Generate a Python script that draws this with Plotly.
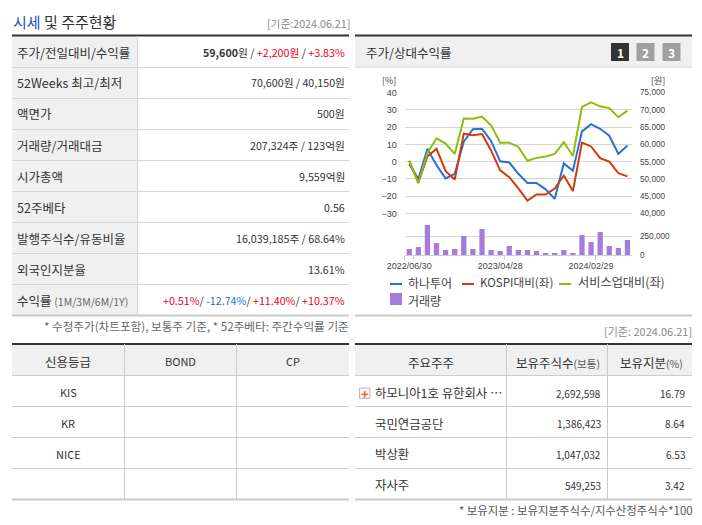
import re

import plotly.graph_objects as go

FONT = "Noto Sans CJK KR"
W, H = 702, 525

hana = [-1.5, -10, 7.5, -2, -9.7, -7, 11.5, 18.8, 19, 12, 0.2, -0.5, -7, -12.3, -12.3, -16, -21.5, -1, -5.3, 17.5, 21.7, 19, 15, 4.5, 9.3]
kospi = [0.5, -12, 3, 7.5, -5.5, -10.3, 16.2, 15.3, 16, 6.5, -5, -9, -15.5, -22.5, -19, -19, -15.5, -8, -17, 11, 8.8, 2, 0, -6.7, -8.5]
service = [0.5, -12.5, 5, 13.5, 10.5, 4.5, 25, 24.8, 26, 21, 11, 11, 8.5, 0.5, 2.2, 3, 4.5, 11.2, 3.3, 31.7, 34.3, 32, 31, 25.7, 29.5]
volume = [80000, 107000, 400000, 160000, 67000, 80000, 255000, 80000, 348000, 67000, 54000, 120000, 67000, 67000, 54000, 27000, 27000, 67000, 27000, 268000, 174000, 308000, 120000, 94000, 200000]

date_pos = [0, 10, 20]
date_labels = ["2022/06/30", "2023/04/28", "2024/02/29"]
pct_ticks = [-30, -20, -10, 0, 10, 20, 30, 40]
price_ticks = [40000, 45000, 50000, 55000, 60000, 65000, 70000, 75000]
vol_ticks = [0, 250000]
series_names = ["하나투어", "KOSPI대비(좌)", "서비스업대비(좌)"]
volume_name = "거래량"

row_labels = ["주가/전일대비/수익률", "52Weeks 최고/최저", "액면가", "거래량/거래대금", "시가총액", "52주베타", "발행주식수/유동비율", "외국인지분율", "수익률"]
row_values = ["59,600원 / +2,200원 / +3.83%", "70,600원 / 40,150원", "500원", "207,324주 / 123억원", "9,559억원", "0.56", "16,039,185주 / 68.64%", "13.61%", "+0.51%/ -12.74%/ +11.40%/ +10.37%"]
credit_head = ["신용등급", "BOND", "CP"]
credit_names = ["KIS", "KR", "NICE", ""]
holder_head = ["주요주주", "보유주식수", "보유지분"]
holder_names = ["하모니아1호 유한회사 …", "국민연금공단", "박상환", "자사주"]
holder_shares = ["2,692,598", "1,386,423", "1,047,032", "549,253"]
holder_pct = ["16.79", "8.64", "6.53", "3.42"]

BLUE = "#2a70dc"
RED = "#d13a0a"
GREEN = "#8abf10"
PURPLE = "#a67bdc"
LINE = "#d6d6d6"
HEAD = "#f0f0f0"
TEXT = "#333333"


def px(x):
    return x / W


def py(y):
    return 1 - y / H


shapes = []
notes = []


def rect(x0, y0, x1, y1, color):
    shapes.append(dict(type="rect", xref="paper", yref="paper", x0=px(x0), x1=px(x1),
                       y0=py(y0), y1=py(y1), fillcolor=color, line_width=0, layer="below"))


def rule(x0, y0, x1, y1, color=LINE, width=1):
    shapes.append(dict(type="line", xref="paper", yref="paper", x0=px(x0), x1=px(x1),
                       y0=py(y0), y1=py(y1), line=dict(color=color, width=width), layer="below"))


def label(x, y, text, size=12, color=TEXT, anchor="left"):
    notes.append(dict(xref="paper", yref="paper", x=px(x), y=py(y), text=text, showarrow=False,
                      xanchor=anchor, yanchor="middle", borderpad=0,
                      font=dict(family=FONT, size=size, color=color)))


def colour_signed(text):
    def repl(m):
        color = "#e8001c" if m.group(0)[0] == "+" else "#1a6fe0"
        return f'<span style="color:{color}">{m.group(0)}</span>'
    return re.sub(r"[+-][\d,.]+[%원]", repl, text)


# 시세 table
label(12, 21, '<span style="color:#2a4cc0">시세</span> 및 주주현황', size=15)
label(351, 23, "[기준:2024.06.21]", size=10.7, color="#888888", anchor="right")
rect(12, 36, 137.5, 315, HEAD)
rule(12, 35.5, 349, 35.5, "#333333", 2)
for i, (name, value) in enumerate(zip(row_labels, row_values)):
    yc = 52 + 31 * i
    if name == "수익률":
        name += ' <span style="font-size:10.5px;color:#666666">(1M/3M/6M/1Y)</span>'
    label(16, yc, name, size=12.5)
    value = colour_signed(value)
    if i == 0:
        value = value.replace("59,600", "<b>59,600</b>", 1)
    label(346, yc, value, size=10.7, anchor="right")
    if i < len(row_labels) - 1:
        rule(12, yc + 15.5, 349, yc + 15.5)
rule(137.5, 36, 137.5, 315)
rule(12, 315.5, 349, 315.5, "#c8c8c8", 2)
label(350, 326, "* 수정주가(차트포함), 보통주 기준, * 52주베타: 주간수익률 기준", size=11.6, color="#666666", anchor="right")

# 신용등급 table
rect(12, 344, 349, 375.5, HEAD)
rule(12, 344, 349, 344, "#333333", 2)
for x, text, size in zip([68, 180.5, 293], credit_head, [12.5, 11, 11]):
    label(x, 361, text, size=size, anchor="center")
for i, name in enumerate(credit_names):
    label(68, 392 + 31 * i, name, size=11, anchor="center")
    rule(12, 375.5 + 31 * i, 349, 375.5 + 31 * i, "#cccccc")
rule(124.5, 344, 124.5, 499, "#cccccc")
rule(236.5, 344, 236.5, 499, "#cccccc")
rule(12, 499.5, 349, 499.5, "#c8c8c8", 2)

# 주요주주 table
label(693, 331, "[기준: 2024.06.21]", size=11, color="#888888", anchor="right")
rect(355, 344, 692, 375.5, HEAD)
rule(355, 344, 692, 344, "#333333", 2)
label(431, 362, holder_head[0], size=12.5, anchor="center")
label(558, 362, holder_head[1] + '<span style="font-size:10.5px;color:#555555">(보통)</span>', size=12.5, anchor="center")
label(651, 362, holder_head[2] + '<span style="font-size:10.5px;color:#555555">(%)</span>', size=12.5, anchor="center")
for i in range(len(holder_names)):
    yc = 393 + 30.7 * i
    label(374, yc, holder_names[i], size=12.4)
    label(601.5, yc, holder_shares[i], size=10, anchor="right")
    label(686, yc, holder_pct[i], size=10, anchor="right")
    rule(355, 375.5 + 31 * i, 692, 375.5 + 31 * i, "#cccccc")
rule(506.5, 344, 506.5, 499, "#cccccc")
rule(607.5, 344, 607.5, 499, "#cccccc")
rule(355, 499.5, 692, 499.5, "#c8c8c8", 2)
label(694, 510, "* 보유지분 : 보유지분주식수/지수산정주식수*100", size=11.4, color="#555555", anchor="right")
# plus icon
shapes.append(dict(type="rect", xref="paper", yref="paper", x0=px(359.5), x1=px(370), y0=py(388), y1=py(398.5),
                   fillcolor="#f4f4f4", line=dict(color="#bbbbbb", width=1), layer="below"))
label(364.8, 393, "<b>+</b>", size=13, color="#f0650f", anchor="center")

# chart panel
rect(355, 36, 692, 67, HEAD)
rule(355, 35.5, 692, 35.5, "#333333", 2)
rule(355, 67, 692, 67)
label(365, 52, "주가/상대수익률", size=12.5)
for x0, digit, color in [(611, "1", "#333333"), (636.5, "2", "#a0a0a0"), (662.5, "3", "#a0a0a0")]:
    rect(x0, 43, x0 + 18, 61, color)
    label(x0 + 9, 52, f"<b>{digit}</b>", size=12, color="#ffffff", anchor="center")
label(397, 80, "[%]", size=9, color="#444444", anchor="right")
label(666, 80, "[원]", size=9, color="#444444", anchor="right")
rule(355, 315.5, 692, 315.5, "#c8c8c8", 2)

# manual legend, the swatches are shorter than plotly's own
legend_x = [(390, 407), (462, 479), (559, 577)]
legend_size = [12, 11.6, 12.2]
for (x0, tx), name, color, size in zip(legend_x, series_names, [BLUE, RED, GREEN], legend_size):
    rule(x0, 284, x0 + 12, 284, color, 2)
    label(tx, 282, name, size=size, color="#444444")
rect(390, 293, 402, 305, PURPLE)
label(407, 300, volume_name, size=12, color="#444444")

idx = list(range(len(volume)))
fig = go.Figure()
for values, name, color in zip([hana, kospi, service], series_names, [BLUE, RED, GREEN]):
    fig.add_trace(go.Scatter(x=idx, y=values, name=name, mode="lines", line=dict(color=color, width=2),
                             xaxis="x", yaxis="y", showlegend=False))
fig.add_trace(go.Bar(x=idx, y=volume, name=volume_name, marker=dict(color=PURPLE, line_width=0), width=0.58,
                     xaxis="x2", yaxis="y3", showlegend=False))
# invisible trace so the price axis gets drawn
fig.add_trace(go.Scatter(x=[idx[0]] * len(price_ticks), y=price_ticks, mode="none", hoverinfo="skip",
                         xaxis="x", yaxis="y2", showlegend=False))

tick_font = dict(family="Liberation Sans", size=9, color="#444444")
right_font = dict(family="Liberation Sans", size=8.2, color="#444444")
x_dom = [px(404.7), px(632)]
x_range = [-0.5, 24.5]
line_dom = [py(216.3), py(92.5)]
bottom_pct = -31.6
price_low = 75000 - (40 - bottom_pct) * 500
vol_top = 250000 * (255 - 216.3) / (255 - 236.3)

fig.update_layout(
    width=W, height=H, margin=dict(l=0, r=0, t=0, b=0),
    paper_bgcolor="white", plot_bgcolor="rgba(0,0,0,0)", shapes=shapes, annotations=notes,
    xaxis=dict(domain=x_dom, range=x_range, visible=False, anchor="y", automargin=False),
    xaxis2=dict(domain=x_dom, range=x_range, anchor="y3", tickmode="array", tickvals=date_pos, ticktext=date_labels,
                ticks="", showgrid=False, zeroline=False, showline=True, linecolor="#c8d0d8", tickfont=tick_font,
                ticklabelstandoff=2, automargin=False,
                minor=dict(tickmode="array", tickvals=[-0.5, 0.5, 10.5, 20.5], ticks="outside", ticklen=4,
                           tickcolor="#c8d0d8", showgrid=False)),
    yaxis=dict(domain=line_dom, range=[bottom_pct, 40], tickmode="array", tickvals=pct_ticks, gridcolor=LINE,
               zeroline=False, showline=False, tickfont=tick_font, anchor="x", ticklabelstandoff=7, automargin=False),
    yaxis2=dict(domain=line_dom, range=[price_low, 75000], tickmode="array", tickvals=price_ticks, tickformat=",d",
                side="right", overlaying="y", anchor="x", showgrid=False, zeroline=False, tickfont=right_font,
                ticklabelstandoff=7, automargin=False),
    yaxis3=dict(domain=[py(255), py(216.3)], range=[0, vol_top], tickmode="array", tickvals=vol_ticks, tickformat=",d",
                side="right", anchor="x2", gridcolor=LINE, zeroline=False, tickfont=right_font, ticklabelstandoff=7,
                automargin=False),
    bargap=0.42,
)

fig.write_html("out.html", config=dict(displayModeBar=False), post_script="document.body.style.margin='0';")
